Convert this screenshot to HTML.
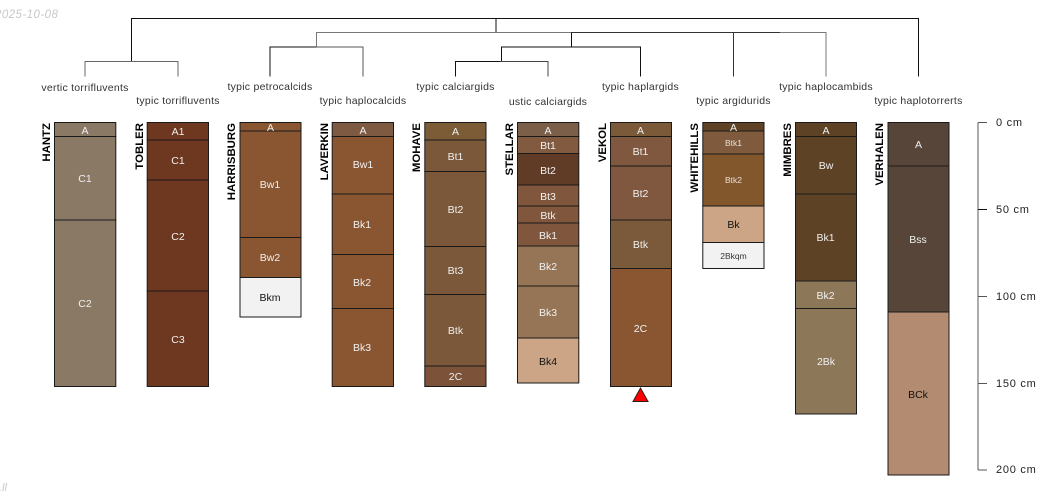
<!DOCTYPE html>
<html><head><meta charset="utf-8"><style>
html,body{margin:0;padding:0;background:#fff;width:1050px;height:500px;overflow:hidden}
svg{display:block}
text{font-family:"Liberation Sans",sans-serif}
.t{font-size:10.5px;fill:#333;text-anchor:middle;letter-spacing:.25px}
.n{font-size:11.4px;font-weight:bold;fill:#000;text-anchor:end}
.w{font-size:10.5px;fill:#f0f0f0;text-anchor:middle}
.d{font-size:10.5px;fill:#111;text-anchor:middle}
.s{font-size:8.5px;fill:#e8e0d8;text-anchor:middle}
.c{font-size:11px;fill:#222;letter-spacing:.75px}
rect{stroke:#1a1a1a;stroke-width:1}
line,path{stroke:#111;stroke-width:1;fill:none}
</style></head><body>
<svg width="1050" height="500" viewBox="0 0 1050 500" xmlns="http://www.w3.org/2000/svg">
<text x="-5" y="18" font-size="11.5" font-style="italic" fill="#c8c8c8" letter-spacing=".45">2025-10-08</text>
<text x="-1" y="491" font-size="11" font-style="italic" fill="#c8c8c8">.ll</text>

<!-- dendrogram -->
<path d="M131.5 61.500V18.500H918.500V76.500"/>
<path d="M496 18.500V32.500"/>
<path d="M85 76.500V61.500H178V76.500" style="stroke:#666"/>
<path d="M316.500 47V32.500H826V76.500" style="stroke:#777"/>
<path d="M270 76.500V47H340" />
<path d="M316 47H363V76.500" style="stroke:#555"/>
<path d="M571.500 32.500V47"/>
<path d="M501.500 61.500V47H640.500V76.500"/>
<path d="M455.500 76.500V61.500H500"/>
<path d="M500 61.500H548V76.500" style="stroke:#444"/>
<path d="M733.500 76.500V32.500" style="stroke:#333"/>
<path d="M571 32.500H780" style="stroke:#333"/>

<!-- taxon labels -->
<text class="t" x="85" y="91">vertic torrifluvents</text>
<text class="t" x="178" y="104">typic torrifluvents</text>
<text class="t" x="270" y="90">typic petrocalcids</text>
<text class="t" x="363" y="104">typic haplocalcids</text>
<text class="t" x="455.500" y="90">typic calciargids</text>
<text class="t" x="548" y="105">ustic calciargids</text>
<text class="t" x="640.500" y="90">typic haplargids</text>
<text class="t" x="733.500" y="104">typic argidurids</text>
<text class="t" x="826" y="90">typic haplocambids</text>
<text class="t" x="918.500" y="104">typic haplotorrerts</text>

<!-- profile names -->
<text class="n" transform="translate(50,123) rotate(-90)">HANTZ</text>
<text class="n" transform="translate(143,123) rotate(-90)">TOBLER</text>
<text class="n" transform="translate(235,123) rotate(-90)">HARRISBURG</text>
<text class="n" transform="translate(328,123) rotate(-90)">LAVERKIN</text>
<text class="n" transform="translate(420,123) rotate(-90)">MOHAVE</text>
<text class="n" transform="translate(513,123) rotate(-90)">STELLAR</text>
<text class="n" transform="translate(606,123) rotate(-90)">VEKOL</text>
<text class="n" transform="translate(698,123) rotate(-90)">WHITEHILLS</text>
<text class="n" transform="translate(791,123) rotate(-90)">MIMBRES</text>
<text class="n" transform="translate(883,123) rotate(-90)">VERHALEN</text>

<!-- HANTZ -->
<rect x="54.500" y="122.500" width="61.300" height="14" fill="#8a7965"/>
<rect x="54.500" y="136.500" width="61.300" height="83.500" fill="#8a7965"/>
<rect x="54.500" y="220" width="61.300" height="166.500" fill="#8a7965"/>
<text class="w" x="85" y="134">A</text><text class="w" x="85" y="182">C1</text><text class="w" x="85" y="307">C2</text>

<!-- TOBLER -->
<rect x="147.200" y="122.500" width="61.300" height="17.500" fill="#6d3720"/>
<rect x="147.200" y="140" width="61.300" height="40" fill="#6d3720"/>
<rect x="147.200" y="180" width="61.300" height="111" fill="#6d3720"/>
<rect x="147.200" y="291" width="61.300" height="95.500" fill="#6d3720"/>
<text class="w" x="178" y="135">A1</text><text class="w" x="178" y="164">C1</text><text class="w" x="178" y="240">C2</text><text class="w" x="178" y="343">C3</text>

<!-- HARRISBURG -->
<rect x="240" y="122.500" width="61" height="8.500" fill="#8a5632"/>
<rect x="240" y="131" width="61" height="106.500" fill="#8a5632"/>
<rect x="240" y="237.500" width="61" height="40" fill="#8a5632"/>
<rect x="240" y="277.500" width="61" height="39.500" fill="#f2f2f2"/>
<text class="w" x="270.500" y="131">A</text><text class="w" x="270" y="188">Bw1</text><text class="w" x="270" y="261">Bw2</text><text class="d" x="270" y="301">Bkm</text>

<!-- LAVERKIN -->
<rect x="332.200" y="122.500" width="61.300" height="14" fill="#7f5a42"/>
<rect x="332.200" y="136.500" width="61.300" height="57.500" fill="#8a5632"/>
<rect x="332.200" y="194" width="61.300" height="60.500" fill="#8a5632"/>
<rect x="332.200" y="254.500" width="61.300" height="54" fill="#8a5632"/>
<rect x="332.200" y="308.500" width="61.300" height="78" fill="#8a5632"/>
<text class="w" x="363" y="134">A</text><text class="w" x="363" y="168">Bw1</text><text class="w" x="362" y="228">Bk1</text><text class="w" x="362" y="286">Bk2</text><text class="w" x="362" y="351">Bk3</text>

<!-- MOHAVE -->
<rect x="424.800" y="122.500" width="61.200" height="17.500" fill="#7c5c36"/>
<rect x="424.800" y="140" width="61.200" height="31.500" fill="#7a5839"/>
<rect x="424.800" y="171.500" width="61.200" height="75" fill="#7a5839"/>
<rect x="424.800" y="246.500" width="61.200" height="48" fill="#7a5839"/>
<rect x="424.800" y="294.500" width="61.200" height="71.500" fill="#7a5839"/>
<rect x="424.800" y="366" width="61.200" height="20.500" fill="#7c5239"/>
<text class="w" x="455.500" y="135">A</text><text class="w" x="455.500" y="160">Bt1</text><text class="w" x="455.500" y="213">Bt2</text><text class="w" x="455.500" y="274">Bt3</text><text class="w" x="455.500" y="334">Btk</text><text class="w" x="455.500" y="380">2C</text>

<!-- STELLAR -->
<rect x="517.500" y="122.500" width="61.300" height="14" fill="#7b5f48"/>
<rect x="517.500" y="136.500" width="61.300" height="17" fill="#825a40"/>
<rect x="517.500" y="153.500" width="61.300" height="31.500" fill="#603c26"/>
<rect x="517.500" y="185" width="61.300" height="21" fill="#80573c"/>
<rect x="517.500" y="206" width="61.300" height="17" fill="#80573c"/>
<rect x="517.500" y="223" width="61.300" height="23" fill="#80573c"/>
<rect x="517.500" y="246" width="61.300" height="40" fill="#967556"/>
<rect x="517.500" y="286" width="61.300" height="52" fill="#967556"/>
<rect x="517.500" y="338" width="61.300" height="45" fill="#cba585"/>
<text class="w" x="548" y="134">A</text><text class="w" x="548" y="149">Bt1</text><text class="w" x="548" y="174">Bt2</text><text class="w" x="548" y="200">Bt3</text><text class="w" x="548" y="219">Btk</text><text class="w" x="548" y="239">Bk1</text><text class="w" x="548" y="270">Bk2</text><text class="w" x="548" y="316">Bk3</text><text class="d" x="548" y="365">Bk4</text>

<!-- VEKOL -->
<rect x="610.500" y="122.500" width="61" height="14" fill="#7b5a3a"/>
<rect x="610.500" y="136.500" width="61" height="29.500" fill="#80583f"/>
<rect x="610.500" y="166" width="61" height="54" fill="#80583f"/>
<rect x="610.500" y="220" width="61" height="48.500" fill="#7a5a3b"/>
<rect x="610.500" y="268.500" width="61" height="118" fill="#8a5632"/>
<text class="w" x="640.500" y="134">A</text><text class="w" x="640.500" y="155">Bt1</text><text class="w" x="640.500" y="197">Bt2</text><text class="w" x="640.500" y="248">Btk</text><text class="w" x="640.500" y="332">2C</text>
<path d="M633 401.500H648L640.500 388Z" style="fill:#f00;stroke:#222"/>

<!-- WHITEHILLS -->
<rect x="702.800" y="122.500" width="61.200" height="8.500" fill="#5d4226"/>
<rect x="702.800" y="131" width="61.200" height="23" fill="#7f5a3c"/>
<rect x="702.800" y="154" width="61.200" height="52" fill="#82572b"/>
<rect x="702.800" y="206" width="61.200" height="36.500" fill="#cba585"/>
<rect x="702.800" y="242.500" width="61.200" height="26" fill="#f2f2f2"/>
<text class="w" x="733.500" y="131">A</text><text class="s" x="733.500" y="146">Btk1</text><text class="s" x="733.500" y="183">Btk2</text><text class="d" x="733.500" y="228">Bk</text><text class="s" style="fill:#333" x="733.500" y="259">2Bkqm</text>

<!-- MIMBRES -->
<rect x="795.500" y="122.500" width="61" height="14" fill="#5d4225"/>
<rect x="795.500" y="136.500" width="61" height="57.500" fill="#5d4225"/>
<rect x="795.500" y="194" width="61" height="87" fill="#5d4225"/>
<rect x="795.500" y="281" width="61" height="27.500" fill="#8d7759"/>
<rect x="795.500" y="308.500" width="61" height="105.500" fill="#8d7759"/>
<text class="w" x="826" y="134">A</text><text class="w" x="826" y="169">Bw</text><text class="w" x="825.500" y="241">Bk1</text><text class="w" x="825.500" y="299">Bk2</text><text class="w" x="826" y="365">2Bk</text>

<!-- VERHALEN -->
<rect x="888" y="122.500" width="61" height="43.500" fill="#564538"/>
<rect x="888" y="166" width="61" height="146" fill="#564538"/>
<rect x="888" y="312" width="61" height="163" fill="#b38b71"/>
<text class="w" x="918.500" y="148">A</text><text class="w" x="918" y="243">Bss</text><text class="d" x="918" y="398">BCk</text>

<!-- depth scale -->
<path d="M978 122.500V470" style="stroke:#888;stroke-width:1.4"/>
<path d="M978 122.500H987M978 470H987M978 383.500H987M978 296.500H987" style="stroke:#555"/>
<path d="M978 209.500H987" style="stroke:#111"/>
<text class="c" x="996" y="126">0 cm</text>
<text class="c" x="996" y="213">50 cm</text>
<text class="c" x="996" y="300">100 cm</text>
<text class="c" x="996" y="387">150 cm</text>
<text class="c" x="996" y="473">200 cm</text>
</svg>
</body></html>
